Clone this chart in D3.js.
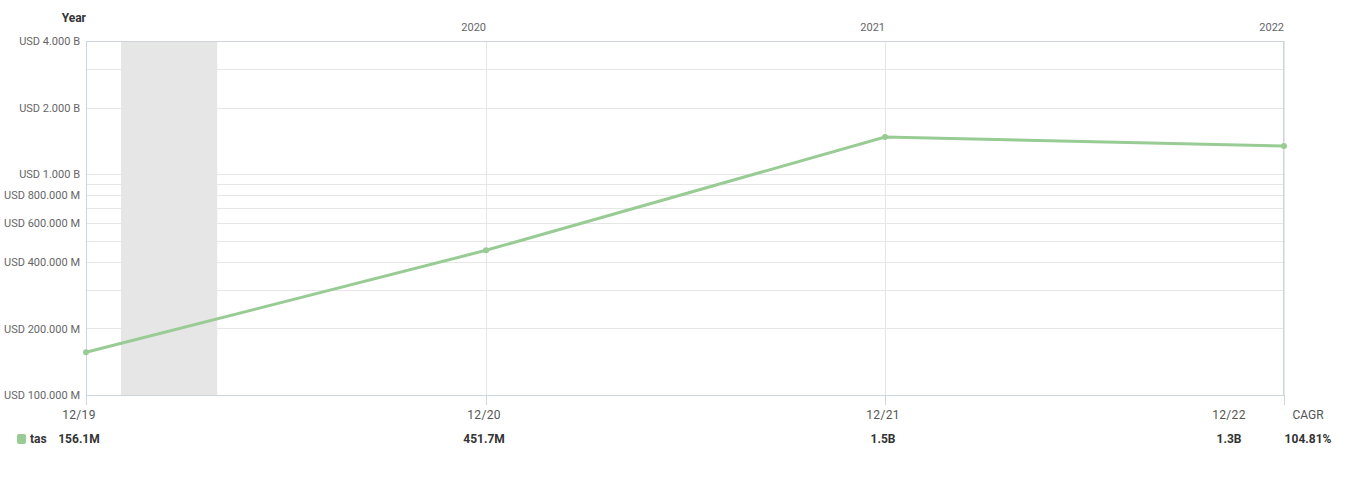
<!DOCTYPE html>
<html>
<head>
<meta charset="utf-8">
<script src="https://cdn.jsdelivr.net/npm/d3@7"></script>
<style>
  body { margin: 0; background: #fff; font-family: Roboto, "Noto Sans", sans-serif; }
  svg text { font-family: Roboto, "Noto Sans", sans-serif; }
</style>
</head>
<body>
<div id="chart"></div>
<script>
// data

var dates = ["2019-12-31", "2020-12-31", "2021-12-31", "2022-12-31"],
    dateLabels = ["12/19", "12/20", "12/21", "12/22"],
    values = [156.1e6, 451.7e6, 1.47e9, 1.34e9],
    valueLabels = ["156.1M", "451.7M", "1.5B", "1.3B"],
    seriesName = "tas",
    cagr = "104.81%",
    yearTicks = ["2020-12-31", "2021-12-31", "2022-12-31"],
    yearLabels = ["2020", "2021", "2022"],
    yTickValues = [1e8, 2e8, 4e8, 6e8, 8e8, 1e9, 2e9, 4e9],
    yTickLabels = ["USD 100.000 M", "USD 200.000 M", "USD 400.000 M", "USD 600.000 M",
                   "USD 800.000 M", "USD 1.000 B", "USD 2.000 B", "USD 4.000 B"],
    yGridValues = [1e8, 2e8, 3e8, 4e8, 5e8, 6e8, 7e8, 8e8, 9e8, 1e9, 2e9, 3e9, 4e9],
    band = ["2020-02-01", "2020-04-29"];

var width = 1352,
    height = 489,
    margin = { left: 86, right: 68, top: 41, bottom: 94 },
    lineColor = "#98cc94";

var parse = d3.timeParse("%Y-%m-%d");

var svg = d3.select("#chart")
    .append("svg")
    .attr("width", width)
    .attr("height", height);

var x = d3.scaleTime()
    .domain([parse(dates[0]), parse(dates[dates.length - 1])])
    .range([margin.left, width - margin.right]);

var y = d3.scaleLog()
    .domain([1e8, 4e9])
    .range([height - margin.bottom, margin.top]);

// highlighted band
svg.append("rect")
    .attr("x", x(parse(band[0])))
    .attr("y", margin.top)
    .attr("width", x(parse(band[1])) - x(parse(band[0])))
    .attr("height", y(1e8) - y(4e9))
    .attr("fill", "#e6e6e6");

// horizontal grid
svg.append("g")
    .selectAll("line")
    .data(yGridValues)
    .enter()
    .append("line")
    .attr("x1", margin.left)
    .attr("x2", width - margin.right)
    .attr("y1", function (d) { return Math.round(y(d)) + 0.5; })
    .attr("y2", function (d) { return Math.round(y(d)) + 0.5; })
    .style("stroke", "#e6e6e6")
    .style("stroke-width", 1);

// vertical grid
svg.append("g")
    .selectAll("line")
    .data(yearTicks)
    .enter()
    .append("line")
    .attr("x1", function (d) { return Math.round(x(parse(d))) + 0.5; })
    .attr("x2", function (d) { return Math.round(x(parse(d))) + 0.5; })
    .attr("y1", margin.top)
    .attr("y2", height - margin.bottom)
    .style("stroke", "#e6e6e6");

// frame
svg.append("rect")
    .attr("x", margin.left + 0.5)
    .attr("y", margin.top + 0.5)
    .attr("width", width - margin.right - margin.left - 1)
    .attr("height", y(1e8) - y(4e9))
    .attr("fill", "none")
    .style("stroke", "#ccd6e0");

// y axis labels
var yAxis = d3.axisLeft(y)
    .tickValues(yTickValues)
    .tickSize(0)
    .tickPadding(6)
    .tickFormat(function (d, i) { return yTickLabels[i]; });

svg.append("g")
    .attr("transform", "translate(" + margin.left + ",0)")
    .call(yAxis)
    .call(function (g) { g.select(".domain").remove(); })
    .selectAll("text")
    .style("font-size", "11px")
    .style("fill", "#666");

// top year labels
svg.append("g")
    .selectAll("text")
    .data(yearTicks)
    .enter()
    .append("text")
    .attr("x", function (d) { return x(parse(d)); })
    .attr("y", 31)
    .attr("text-anchor", "end")
    .style("font-size", "11px")
    .style("fill", "#666")
    .text(function (d, i) { return yearLabels[i]; });

svg.append("text")
    .attr("x", 86)
    .attr("y", 22)
    .attr("text-anchor", "end")
    .style("font-size", "12px")
    .style("font-weight", "bold")
    .style("fill", "#333")
    .text("Year");

// bottom ticks
svg.append("g")
    .selectAll("line")
    .data(dates)
    .enter()
    .append("line")
    .attr("x1", function (d) { return Math.round(x(parse(d))) + 0.5; })
    .attr("x2", function (d) { return Math.round(x(parse(d))) + 0.5; })
    .attr("y1", height - margin.bottom)
    .attr("y2", height - margin.bottom + 10)
    .style("stroke", "#ccd6e0");

// column positions for the table under the chart
function colX(i) {
    var cx = x(parse(dates[i]));
    if (i === 0) return cx - 7;
    if (i === dates.length - 1) return cx - 55;
    return cx - 2;
}

svg.append("g")
    .selectAll("text")
    .data(dateLabels)
    .enter()
    .append("text")
    .attr("x", function (d, i) { return colX(i); })
    .attr("y", 419)
    .attr("text-anchor", "middle")
    .style("font-size", "12px")
    .style("letter-spacing", "0.3px")
    .style("fill", "#555")
    .text(function (d) { return d; });

svg.append("text")
    .attr("x", 1308)
    .attr("y", 419)
    .attr("text-anchor", "middle")
    .style("font-size", "12px")
    .style("fill", "#555")
    .text("CAGR");

// legend row
svg.append("rect")
    .attr("x", 17)
    .attr("y", 434)
    .attr("width", 9)
    .attr("height", 10)
    .attr("rx", 2)
    .attr("fill", lineColor);

svg.append("text")
    .attr("x", 30)
    .attr("y", 443)
    .style("font-size", "12px")
    .style("font-weight", "bold")
    .style("fill", "#333")
    .text(seriesName);

svg.append("g")
    .selectAll("text")
    .data(valueLabels)
    .enter()
    .append("text")
    .attr("x", function (d, i) { return colX(i); })
    .attr("y", 443)
    .attr("text-anchor", "middle")
    .style("font-size", "12px")
    .style("font-weight", "bold")
    .style("fill", "#333")
    .text(function (d) { return d; });

svg.append("text")
    .attr("x", 1308)
    .attr("y", 443)
    .attr("text-anchor", "middle")
    .style("font-size", "12px")
    .style("font-weight", "bold")
    .style("fill", "#333")
    .text(cagr);

// line
var points = dates.map(function (d, i) { return { date: parse(d), value: values[i] }; });

var line = d3.line()
    .x(function (d) { return x(d.date); })
    .y(function (d) { return y(d.value); });

svg.append("path")
    .datum(points)
    .attr("d", line)
    .attr("fill", "none")
    .style("stroke", lineColor)
    .style("stroke-width", 3);

svg.append("g")
    .selectAll("circle")
    .data(points)
    .enter()
    .append("circle")
    .attr("cx", function (d) { return x(d.date); })
    .attr("cy", function (d) { return y(d.value); })
    .attr("r", 3)
    .attr("fill", lineColor);
</script>
</body>
</html>
